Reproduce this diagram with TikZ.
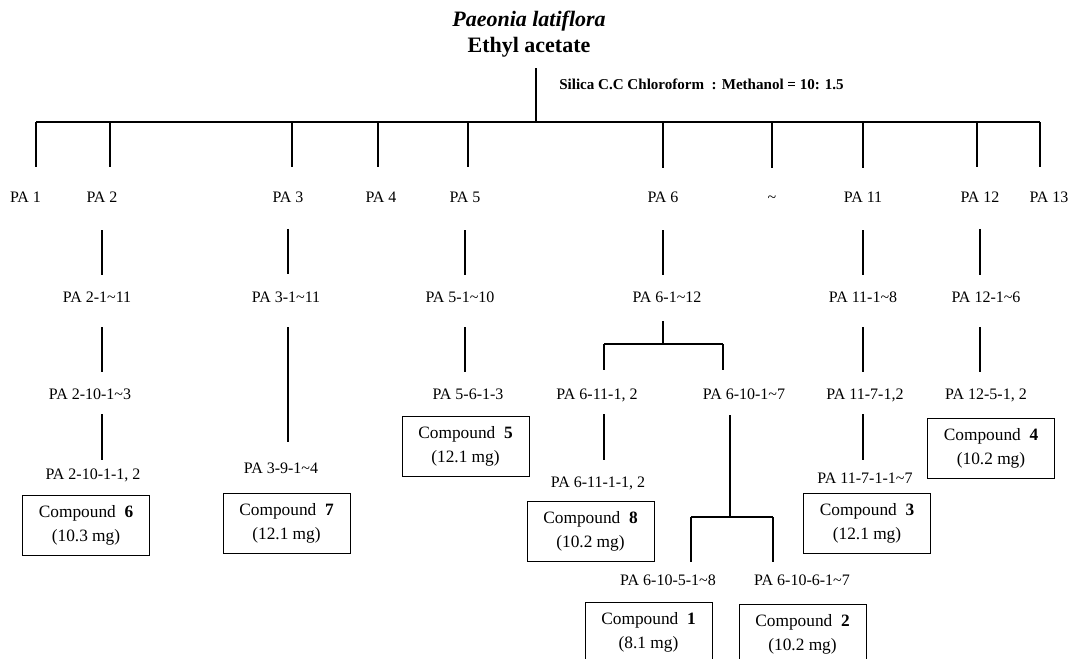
\documentclass[tikz,border=0pt]{standalone}
\usepackage{fontspec}
\setmainfont{Liberation Serif}
\newcommand{\rng}{\textasciitilde}

\begin{document}
\begin{tikzpicture}[
  x=0.75pt, y=-0.75pt,
  link/.style={line width=1.5pt},
  lbl/.style={font=\fontsize{12}{14}\selectfont, anchor=base, inner sep=0pt,
    text height=8pt, text depth=2pt},
  ttl/.style={font=\fontsize{16.5}{19}\selectfont\bfseries, anchor=base, inner sep=0pt},
  cmpd/.style={draw, line width=0.6pt, align=center, inner sep=0pt,
    minimum width=95.25pt, minimum height=45pt, font=\fontsize{13}{18}\selectfont},
]
\useasboundingbox (0,0) rectangle (1074,658);
\clip (0,0) rectangle (1074,658);

% ---------------- extract and eluent ----------------
\node[ttl, font=\fontsize{16.5}{19}\selectfont\bfseries\itshape] (plant) at (529,26) {Paeonia latiflora};
\node[ttl] (ethyl) at (529,52) {Ethyl acetate};
\node[font=\fontsize{11.3}{13}\selectfont\bfseries, anchor=base west, inner sep=0pt]
  (eluent) at (559,89) {Silica C.C Chloroform\ \ : Methanol = 10: 1.5};

% ---------------- column fractions ----------------
\coordinate (b1)   at (36,122);
\coordinate (b2)   at (110,122);
\coordinate (b3)   at (292,122);
\coordinate (b4)   at (378,122);
\coordinate (b5)   at (468,122);
\coordinate (root) at (536,122);
\coordinate (b6)   at (663,122);
\coordinate (bx)   at (772,122);
\coordinate (b11)  at (863,122);
\coordinate (b12)  at (977,122);
\coordinate (b13)  at (1040,122);

\node[lbl] (pa1)  at (25.5,202) {PA 1};
\node[lbl] (pa2)  at (102,202)  {PA 2};
\node[lbl] (pa3)  at (288,202)  {PA 3};
\node[lbl] (pa4)  at (381,202)  {PA 4};
\node[lbl] (pa5)  at (465,202)  {PA 5};
\node[lbl] (pa6)  at (663,202)  {PA 6};
\node[lbl] (pax)  at (772,202)  {\rng};
\node[lbl] (pa11) at (863,202)  {PA 11};
\node[lbl] (pa12) at (980,202)  {PA 12};
\node[lbl] (pa13) at (1049,202) {PA 13};

% ---------------- sub-fractions ----------------
\node[lbl] (pa2s)  at (97,302)  {PA 2-1\rng11};
\node[lbl] (pa3s)  at (286,302) {PA 3-1\rng11};
\node[lbl] (pa5s)  at (460,302) {PA 5-1\rng10};
\node[lbl] (pa6s)  at (667,302) {PA 6-1\rng12};
\node[lbl] (pa11s) at (863,302) {PA 11-1\rng8};
\node[lbl] (pa12s) at (986,302) {PA 12-1\rng6};

\node[lbl] (pa210)  at (90,399)  {PA 2-10-1\rng3};
\node[lbl] (pa56)   at (468,399) {PA 5-6-1-3};
\node[lbl] (pa611)  at (597,399) {PA 6-11-1, 2};
\node[lbl] (pa610)  at (744,399) {PA 6-10-1\rng7};
\node[lbl] (pa117)  at (865,399) {PA 11-7-1,2};
\node[lbl] (pa125)  at (986,399) {PA 12-5-1, 2};

\node[lbl] (pa2101)  at (93,479)  {PA 2-10-1-1, 2};
\node[lbl] (pa39)    at (281,473) {PA 3-9-1\rng4};
\node[lbl] (pa6111)  at (598,487) {PA 6-11-1-1, 2};
\node[lbl] (pa1171)  at (865,483) {PA 11-7-1-1\rng7};

\node[lbl] (pa6105) at (668,585) {PA 6-10-5-1\rng8};
\node[lbl] (pa6106) at (802,585) {PA 6-10-6-1\rng7};

% ---------------- isolated compounds ----------------
\node[cmpd] (c6) at (86,525.5)    {Compound\enspace\textbf{6}\\(10.3 mg)};
\node[cmpd] (c7) at (286.5,523)   {Compound\enspace\textbf{7}\\(12.1 mg)};
\node[cmpd] (c5) at (465.5,446)   {Compound\enspace\textbf{5}\\(12.1 mg)};
\node[cmpd] (c8) at (590.5,531.5) {Compound\enspace\textbf{8}\\(10.2 mg)};
\node[cmpd] (c3) at (867,523)     {Compound\enspace\textbf{3}\\(12.1 mg)};
\node[cmpd] (c4) at (991,448.5)   {Compound\enspace\textbf{4}\\(10.2 mg)};
\node[cmpd] (c1) at (648.5,632)   {Compound\enspace\textbf{1}\\(8.1 mg)};
\node[cmpd] (c2) at (802.5,634)   {Compound\enspace\textbf{2}\\(10.2 mg)};

% ---------------- main column ----------------
\draw[link, shorten >=8.5pt] (root) -- (root |- ethyl.south);
\draw[link] (b1) -- (b13);
\draw[link, shorten >=18.2pt] (b1)  -- (b1 |- pa1.north);
\draw[link, shorten >=18.2pt] (b2)  -- (b2 |- pa2.north);
\draw[link, shorten >=18.2pt] (b3)  -- (b3 |- pa3.north);
\draw[link, shorten >=18.2pt] (b4)  -- (b4 |- pa4.north);
\draw[link, shorten >=18.2pt] (b5)  -- (b5 |- pa5.north);
\draw[link, shorten >=17pt]   (b6)  -- (b6 |- pa6.north);
\draw[link, shorten >=17pt]   (bx)  -- (bx |- pax.north);
\draw[link, shorten >=17pt]   (b11) -- (b11 |- pa11.north);
\draw[link, shorten >=18.2pt] (b12) -- (b12 |- pa12.north);
\draw[link, shorten >=18.2pt] (b13) -- (b13 |- pa13.north);

% ---------------- fraction -> sub-fraction ----------------
\draw[link, shorten <=19pt, shorten >=12.2pt] (pa2.south)  -- (pa2.south |- pa2s.north);
\draw[link, shorten <=18pt, shorten >=13pt]   (pa3.south)  -- (pa3.south |- pa3s.north);
\draw[link, shorten <=19pt, shorten >=12.2pt] (pa5.south)  -- (pa5.south |- pa5s.north);
\draw[link, shorten <=19pt, shorten >=12.2pt] (pa6.south)  -- (pa6.south |- pa6s.north);
\draw[link, shorten <=19pt, shorten >=12.2pt] (pa11.south) -- (pa11.south |- pa11s.north);
\draw[link, shorten <=18pt, shorten >=12.2pt] (pa12.south) -- (pa12.south |- pa12s.north);

\draw[link, shorten <=16.7pt, shorten >=12.2pt] (pa2s.south -| pa2)   -- (pa210.north -| pa2);
\draw[link, shorten <=16.7pt, shorten >=15.2pt] (pa3s.south -| pa3)   -- (pa39.north -| pa3);
\draw[link, shorten <=16.7pt, shorten >=12.2pt] (pa5s.south -| pa5)   -- (pa56.north -| pa5);
\draw[link, shorten <=16.7pt, shorten >=12.2pt] (pa11s.south)         -- (pa11s.south |- pa117.north);
\draw[link, shorten <=16.7pt, shorten >=12.2pt] (pa12s.south -| pa12) -- (pa125.north -| pa12);

\draw[link, shorten <=9.2pt, shorten >=6.2pt]   (pa210.south -| pa2)  -- (pa2101.north -| pa2);
\draw[link, shorten <=9.2pt, shorten >=9.2pt]   (pa117.south -| pa11) -- (pa1171.north -| pa11);

% PA 6 splits in two
\coordinate (k6l) at (604,344);
\coordinate (k6r) at (723,344);
\draw[link, shorten <=12.2pt] (pa6s.south -| pa6) -- (pa6 |- k6l);
\draw[link] (k6l) -- (k6r);
\draw[link, shorten >=13.7pt] (k6l) -- (k6l |- pa611.north);
\draw[link, shorten >=13.7pt] (k6r) -- (k6r |- pa610.north);
\draw[link, shorten <=9.2pt, shorten >=12.2pt] (k6l |- pa611.south) -- (k6l |- pa6111.north);

% PA 6-10 splits again
\coordinate (k610)  at (730,517);
\coordinate (k610l) at (691,517);
\coordinate (k610r) at (773,517);
\draw[link, shorten <=10pt] (k610 |- pa610.south) -- (k610);
\draw[link] (k610l) -- (k610r);
\draw[link, shorten >=9.2pt] (k610l) -- (k610l |- pa6105.north);
\draw[link, shorten >=9.2pt] (k610r) -- (k610r |- pa6106.north);

\end{tikzpicture}
\end{document}
